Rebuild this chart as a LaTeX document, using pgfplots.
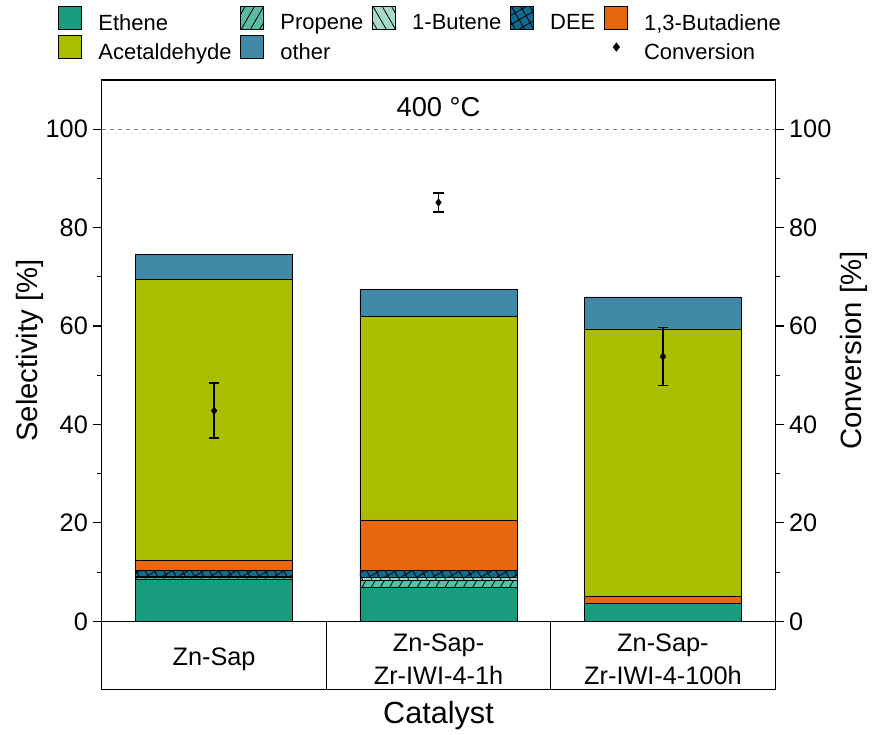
\documentclass[border=0pt]{standalone}
\usepackage{pgfplots}
\pgfplotsset{compat=1.18}
\usepackage{fontspec}
\setmainfont{Liberation Sans}
\usetikzlibrary{patterns.meta}
\definecolor{cEth}{HTML}{189C7E}
\definecolor{cPro}{HTML}{5BBCA3}
\definecolor{cBut}{HTML}{A6DACB}
\definecolor{cDEE}{HTML}{106B8E}
\definecolor{cBD}{HTML}{E8660F}
\definecolor{cAc}{HTML}{AABD00}
\definecolor{cOth}{HTML}{3F89A6}
\pgfplotsset{
  legbar/.style={legend image code/.code={\draw[##1] (0pt,-4.5pt) rectangle (17pt,12.5pt);}},
}
\begin{document}
\begin{tikzpicture}
\begin{axis}[
  scale only axis, width=505.5pt, height=406.5pt,
  xmin=-0.5, xmax=2.5, ymin=0, ymax=110,
  ybar stacked, bar width=0.7,
  clip=false, axis on top,
  xtick={0,1,2},
  xticklabels={Zn-Sap, {Zn-Sap-\\Zr-IWI-4-1h}, {Zn-Sap-\\Zr-IWI-4-100h}},
  xticklabel style={align=center, anchor=center, yshift=-21.5pt, font=\fontsize{19}{25}\selectfont},
  major x tick style={draw=none},
  ytick={0,20,40,60,80,100}, minor ytick={10,30,50,70,90},
  ytick pos=left,
  tick align=outside, major tick length=7pt, minor tick length=3.5pt,
  tick style={black, line width=0.9pt},
  axis line style={line width=0.9pt},
  yticklabel style={font=\fontsize{19}{23}\selectfont},
  /pgf/number format/assume math mode=true,
  ylabel={Selectivity [\%]},
  ylabel style={font=\fontsize{22}{26}\selectfont, at={(axis description cs:-0.107,0.5)}, anchor=center},
  xlabel={Catalyst},
  xlabel style={font=\fontsize{23}{27}\selectfont, at={(axis description cs:0.5,-0.175)}, anchor=center},
  every axis plot/.append style={draw=black, line width=0.6pt},
  legend columns=5,
  legend style={at={(axis description cs:-0.065,1.137)}, anchor=north west,
    draw=none, fill=none, font=\fontsize{16.5}{19}\selectfont, row sep=0.5pt, inner sep=0pt,
    /tikz/every even column/.append style={column sep=4.5pt},
    /tikz/every odd column/.append style={column sep=10.5pt}},
  legend cell align=left,
]
\addplot[fill=cEth, legbar] coordinates {(0,8.6) (1,6.8) (2,3.6)};
\addlegendentry{Ethene}
\addplot[fill=cPro, legbar, postaction={pattern={Lines[angle=60,distance=6pt,line width=0.6pt]}, pattern color=black}] coordinates {(0,0.3) (1,1.6) (2,0)};
\addlegendentry{Propene}
\addplot[fill=cBut, legbar, postaction={pattern={Lines[angle=-60,distance=6pt,line width=0.6pt]}, pattern color=black}] coordinates {(0,0.3) (1,0.6) (2,0)};
\addlegendentry{1-Butene}
\addplot[fill=cDEE, legbar, postaction={pattern={Hatch[angle=30,distance=6pt,line width=0.6pt]}, pattern color=black}] coordinates {(0,1.2) (1,1.3) (2,0)};
\addlegendentry{DEE}
\addplot[fill=cBD, legbar] coordinates {(0,1.9) (1,10.3) (2,1.5)};
\addlegendentry{1,3-Butadiene}
\addplot[fill=cAc, legbar] coordinates {(0,57.2) (1,41.3) (2,54.3)};
\addlegendentry{Acetaldehyde}
\addplot[fill=cOth, legbar] coordinates {(0,5.0) (1,5.6) (2,6.5)};
\addlegendentry{other}
\addlegendimage{empty legend}\addlegendentry{}
\addlegendimage{empty legend}\addlegendentry{}
\addlegendimage{legend image code/.code={\path (0pt,0pt) (17pt,0pt); \fill[black] (9pt,4pt) +(0,3pt) -- +(2.3pt,0) -- +(0,-3pt) -- +(-2.3pt,0) -- cycle;}}
\addlegendentry{Conversion}
\draw[line width=0.9pt] (axis cs:-0.5,0) -- (axis cs:-0.5,-13.8) -- (axis cs:2.5,-13.8) -- (axis cs:2.5,0);
\draw[line width=0.9pt] (axis cs:0.5,0) -- (axis cs:0.5,-13.8);
\draw[line width=0.9pt] (axis cs:1.5,0) -- (axis cs:1.5,-13.8);
\end{axis}
\begin{axis}[
  scale only axis, width=505.5pt, height=406.5pt,
  xmin=-0.5, xmax=2.5, ymin=0, ymax=110,
  xtick=\empty,
  ytick={0,20,40,60,80,100}, minor ytick={10,30,50,70,90},
  ytick pos=right,
  tick align=outside, major tick length=7pt, minor tick length=3.5pt,
  tick style={black, line width=0.9pt},
  axis line style={line width=0.9pt},
  yticklabel style={font=\fontsize{19}{23}\selectfont},
  /pgf/number format/assume math mode=true,
  ylabel={Conversion [\%]},
  ylabel style={font=\fontsize{22}{26}\selectfont, at={(axis description cs:1.117,0.5)}, anchor=center, rotate=0},
  clip=false,
]
\addplot[gray, dashed, line width=0.6pt] coordinates {(-0.5,100) (2.5,100)};
\addplot[black, only marks, mark=diamond*, mark size=2.8pt,
  error bars/.cd, y dir=both, y explicit,
  error bar style={line width=1.3pt, black},
  error mark options={line width=1.3pt, mark size=3.8pt, black, rotate=90}]
  coordinates {(0,42.8) +- (0,5.55) (1,85.1) +- (0,1.95) (2,53.8) +- (0,5.9)};
\node[font=\fontsize{20.5}{24}\selectfont] at (axis cs:1,104.5) {400 °C};
\path (rel axis cs:-0.1513,1.1476) (rel axis cs:1.1424,-0.2011);
\end{axis}
\end{tikzpicture}
\end{document}
